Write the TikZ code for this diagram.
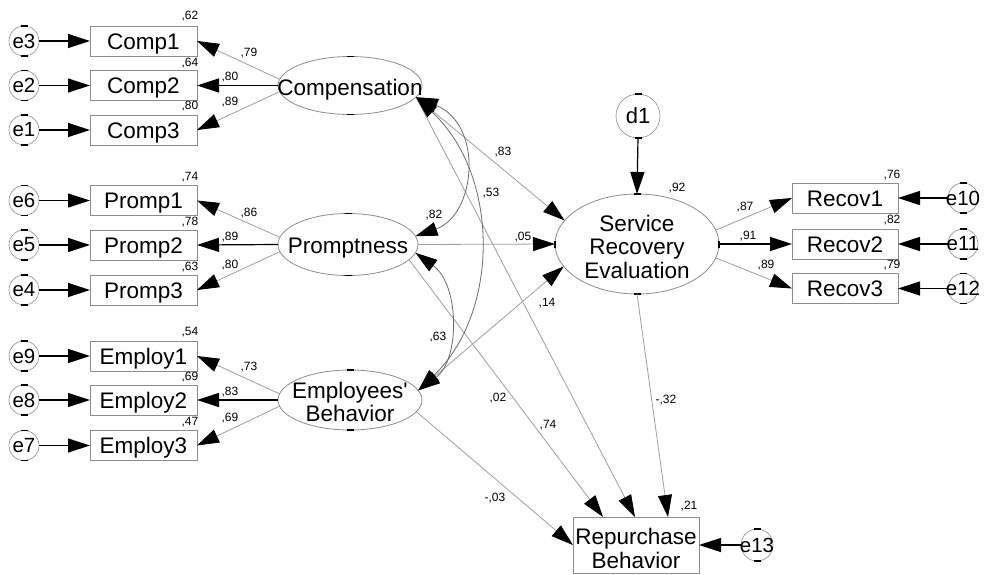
\documentclass[tikz,border=0pt]{standalone}
\usepackage{fontspec}
\setmainfont{Liberation Sans}[Ligatures=TeXOff]
\usetikzlibrary{arrows.meta,shapes.geometric}
\definecolor{boxgray}{gray}{0.55}
\definecolor{linegray}{gray}{0.62}
\definecolor{curvegray}{gray}{0.42}
% short black marks on the axes of ellipses and circles
\newcommand\vertmarks[1]{%
  \draw[tickmark] ([xshift=-3.5pt]#1.north) -- ([xshift=3.5pt]#1.north);
  \draw[tickmark] ([xshift=-3.5pt]#1.south) -- ([xshift=3.5pt]#1.south);}
\newcommand\sidemarks[1]{%
  \draw[tickmark] ([yshift=-3.5pt]#1.east) -- ([yshift=3.5pt]#1.east);
  \draw[tickmark] ([yshift=-3.5pt]#1.west) -- ([yshift=3.5pt]#1.west);}
\begin{document}
\begin{tikzpicture}[x=1pt,y=-1pt,
  every node/.style={inner sep=0pt,outer sep=0pt},
  big/.style={font=\fontsize{22.5}{23.5}\selectfont,align=center},
  obs/.style={draw=boxgray,line width=0.9pt,minimum width=107pt,minimum height=30pt,
    font=\fontsize{22.5}{23.5}\selectfont,text height=16pt,text depth=0pt},
  lat/.style={ellipse,draw=boxgray,line width=0.8pt},
  err/.style={circle,draw=boxgray,line width=0.6pt,minimum size=30pt,
    font=\fontsize{20.5}{22}\selectfont},
  num/.style={font=\fontsize{12}{13}\selectfont},
  fixed/.style={-{Triangle[length=22pt,width=14pt]},draw=black,line width=1.2pt},
  pth/.style={-{Triangle[length=22pt,width=14pt,color=black]},draw=linegray,line width=0.8pt},
  cov/.style={{Triangle[length=22pt,width=14pt,color=black]}-{Triangle[length=22pt,width=14pt,color=black]},
    draw=curvegray,line width=0.8pt},
  tickmark/.style={draw=black,line width=1.2pt},
]
\useasboundingbox (0,0) rectangle (986,574);

% ---------- exogenous latent variables ----------
\node[lat,minimum width=144pt,minimum height=58pt] (comp) at (350,85.5) {};
\node[big,yshift=-4pt] (compT) at (comp.center) {Compensation};
\node[lat,minimum width=140pt,minimum height=62pt] (promp) at (348,244.5) {};
\node[big,yshift=-4pt] (prompT) at (promp.center) {Promptness};
\node[lat,minimum width=144pt,minimum height=60pt] (emp) at (350,400) {};
\node[big,yshift=-2pt] (empT) at (emp.center) {Employees'\\Behavior};

% ---------- endogenous variables ----------
\node[lat,minimum width=164pt,minimum height=100pt] (sre) at (637,244) {};
\node[big,yshift=-2.5pt] (sreT) at (sre.center) {Service\\Recovery\\Evaluation};
\node[draw=boxgray,line width=0.9pt,minimum width=126pt,minimum height=56pt] (rep) at (636,545) {};
\node[big,yshift=-3.5pt] (repT) at (rep.center) {Repurchase\\Behavior};
\node[err,minimum size=44pt,font=\fontsize{22}{24}\selectfont] (d1) at (638,116) {\makebox[0pt]{d1}};

% ---------- indicators ----------
\node[obs] (c1) at (143.5,41) {Comp1};
\node[obs] (c2) at (143.5,85.5) {Comp2};
\node[obs] (c3) at (143.5,130) {Comp3};
\node[obs] (p1) at (143.5,200.5) {Promp1};
\node[obs] (p2) at (143.5,245) {Promp2};
\node[obs] (p3) at (143.5,290) {Promp3};
\node[obs] (m1) at (143.5,356) {Employ1};
\node[obs] (m2) at (143.5,400) {Employ2};
\node[obs] (m3) at (143.5,445.5) {Employ3};
\node[obs,minimum width=106pt] (r1) at (845,198) {Recov1};
\node[obs,minimum width=106pt] (r2) at (845,244) {Recov2};
\node[obs,minimum width=106pt] (r3) at (845,288.5) {Recov3};

% ---------- error terms ----------
\node[err] (e3) at (24,41) {\makebox[0pt]{e3}};
\node[err] (e2) at (24,85.5) {\makebox[0pt]{e2}};
\node[err] (e1) at (24,130) {\makebox[0pt]{e1}};
\node[err] (e6) at (24,200.5) {\makebox[0pt]{e6}};
\node[err] (e5) at (24,245) {\makebox[0pt]{e5}};
\node[err] (e4) at (24,290) {\makebox[0pt]{e4}};
\node[err] (e9) at (24,356) {\makebox[0pt]{e9}};
\node[err] (e8) at (24,400) {\makebox[0pt]{e8}};
\node[err] (e7) at (24,445.5) {\makebox[0pt]{e7}};
\node[err] (e10) at (963,198) {\makebox[0pt]{e10}};
\node[err] (e11) at (963,244) {\makebox[0pt]{e11}};
\node[err] (e12) at (963,288.5) {\makebox[0pt]{e12}};
\node[err,minimum size=32pt] (e13) at (757,545) {\makebox[0pt]{e13}};

% ---------- axis marks ----------
\vertmarks{comp}
\vertmarks{promp}
\vertmarks{emp}
\vertmarks{sre}\sidemarks{sre}
\vertmarks{d1}
\foreach \e in {e1,e2,e3,e4,e5,e6,e7,e8,e9,e10,e11,e12,e13} {\vertmarks{\e}}

% ---------- error arrows ----------
\foreach \e/\v in {e3/c1,e2/c2,e1/c3,e6/p1,e5/p2,e4/p3,e9/m1,e8/m2,e7/m3,
                   e10/r1,e11/r2,e12/r3,e13/rep}
  {\draw[fixed] (\e) -- (\v);}
\draw[fixed] (d1.south) -- (sre.north);

% ---------- measurement paths ----------
\draw[pth] (comp.175) -- (c1.east);
\draw[fixed] (comp.west) -- (c2.east);
\draw[pth] (comp.185) -- (c3.east);
\draw[pth] (promp.174) -- (p1.east);
\draw[fixed] (promp.west) -- (p2.east);
\draw[pth] (promp.186) -- (p3.east);
\draw[pth] (emp.175) -- (m1.east);
\draw[fixed] (emp.west) -- (m2.east);
\draw[pth] (emp.185) -- (m3.east);
\draw[pth] (sre.10) -- (r1.west);
\draw[fixed] (sre.east) -- (r2.west);
\draw[pth] (sre.-10) -- (r3.west);

% ---------- structural paths ----------
\draw[pth] (comp.-10) -- (sre.162);
\draw[pth] (promp.east) -- (sre.west);
\draw[pth] (emp.8) -- (sre.197);
\draw[pth] (comp.-10) -- ([xshift=-1pt]rep.north);
\draw[pth] (promp.-14) -- ([xshift=-33pt]rep.north);
\draw[pth] (emp.-10) -- (rep.west);
\draw[pth] (sre.south) -- ([xshift=32pt]rep.north);

% ---------- covariances ----------
\draw[cov] (comp.-10) .. controls (484,125) and (476,215) .. (promp.7);
\draw[cov] (comp.-10) .. controls (500,175) and (500,312) .. (emp.8);
\draw[cov] (promp.-7) .. controls (460,285) and (460,360) .. (emp.8);

% ---------- estimates ----------
\node[num] (q1) at (190,16) {,62};
\node[num] (q2) at (249,53) {,79};
\node[num] (q3) at (190,63) {,64};
\node[num] (q4) at (230,77) {,80};
\node[num] (q5) at (190,106) {,80};
\node[num] (q6) at (230,102) {,89};
\node[num] (q7) at (190,177) {,74};
\node[num] (q8) at (249,213) {,86};
\node[num] (q9) at (190,222) {,78};
\node[num] (q10) at (230,237) {,89};
\node[num] (q11) at (190,267) {,63};
\node[num] (q12) at (230,265) {,80};
\node[num] (q13) at (190,332) {,54};
\node[num] (q14) at (249,367) {,73};
\node[num] (q15) at (190,377) {,69};
\node[num] (q16) at (230,392) {,83};
\node[num] (q17) at (190,422) {,47};
\node[num] (q18) at (230,418) {,69};
\node[num] (q19) at (503,152) {,83};
\node[num] (q20) at (491,193) {,53};
\node[num] (q21) at (434,215) {,82};
\node[num] (q22) at (523,237) {,05};
\node[num] (q23) at (677,188) {,92};
\node[num] (q24) at (547,303) {,14};
\node[num] (q25) at (438,337) {,63};
\node[num] (q26) at (498,398) {,02};
\node[num] (q27) at (666,400) {-,32};
\node[num] (q28) at (495,498) {-,03};
\node[num] (q29) at (689,506) {,21};
\node[num] (q30) at (548,425) {,74};
\node[num] (q31) at (892,175) {,76};
\node[num] (q32) at (892,220) {,82};
\node[num] (q33) at (892,265) {,79};
\node[num] (q34) at (745,207) {,87};
\node[num] (q35) at (748,236) {,91};
\node[num] (q36) at (766,265) {,89};
\end{tikzpicture}
\end{document}
